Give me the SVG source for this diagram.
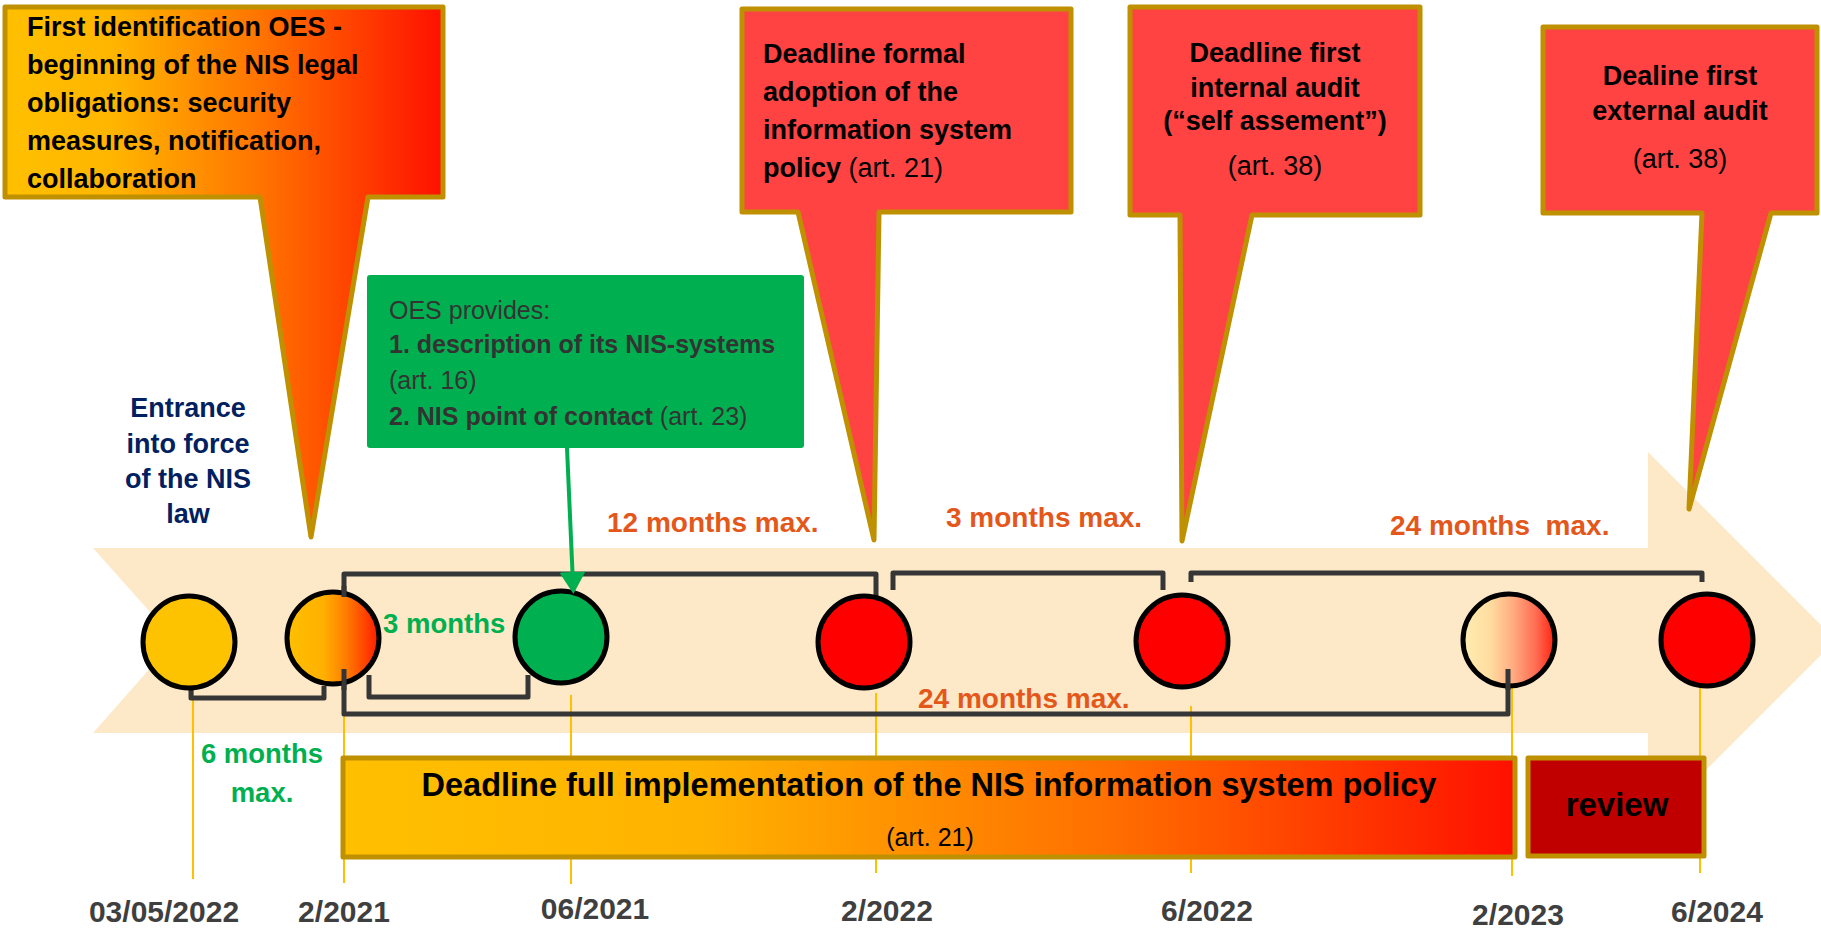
<svg xmlns="http://www.w3.org/2000/svg" width="1821" height="930" viewBox="0 0 1821 930">
  <style>
    text { font-family: "Liberation Sans", Arial, sans-serif; }
    .b { font-weight: bold; }
    .callout { stroke: #BF9000; stroke-width: 5; stroke-linejoin: round; }
    .blk { fill: #000000; font-size: 27px; }
    .reg { font-weight: normal; }
    .bracket { fill: none; stroke: #363636; stroke-width: 5; stroke-linejoin: round; stroke-linecap: butt; }
    .tick { stroke: #FFC000; stroke-width: 2; }
    .dot { stroke: #000000; stroke-width: 5; }
    .orange { fill: #E4571B; font-size: 28px; font-weight: bold; }
    .green { fill: #00B050; font-size: 27.5px; font-weight: bold; }
    .date { fill: #3F3F3F; font-size: 30px; font-weight: bold; text-anchor: middle; }
    .navy { fill: #002060; font-size: 27px; font-weight: bold; text-anchor: middle; }
    .gtxt { fill: #333333; font-size: 25px; }
  </style>
  <defs>
    <linearGradient id="gCallout" gradientUnits="userSpaceOnUse" x1="5" y1="0" x2="443" y2="0">
      <stop offset="0" stop-color="#FFC000"/>
      <stop offset="0.25" stop-color="#FFB500"/>
      <stop offset="0.6" stop-color="#FF7000"/>
      <stop offset="1" stop-color="#FF1000"/>
    </linearGradient>
    <linearGradient id="gBar" x1="0" y1="0" x2="1" y2="0">
      <stop offset="0" stop-color="#FFC000"/>
      <stop offset="0.3" stop-color="#FFB300"/>
      <stop offset="0.65" stop-color="#FF7000"/>
      <stop offset="1" stop-color="#FF1000"/>
    </linearGradient>
    <linearGradient id="gDot" x1="0" y1="0" x2="1" y2="0">
      <stop offset="0" stop-color="#FFC000"/>
      <stop offset="0.4" stop-color="#FFB000"/>
      <stop offset="0.65" stop-color="#FF7A00"/>
      <stop offset="1" stop-color="#FF1A00"/>
    </linearGradient>
    <linearGradient id="gPale" x1="0" y1="0" x2="1" y2="0">
      <stop offset="0" stop-color="#FFEDB0"/>
      <stop offset="0.3" stop-color="#FFDCA0"/>
      <stop offset="0.55" stop-color="#FFAA80"/>
      <stop offset="0.8" stop-color="#FF6A50"/>
      <stop offset="1" stop-color="#FF2010"/>
    </linearGradient>
    <marker id="greenHead" viewBox="0 0 22 26" refX="12" refY="13" markerWidth="22" markerHeight="26" markerUnits="userSpaceOnUse" orient="auto">
      <path d="M0,0 L22,13 L0,26 Z" fill="#00B050"/>
    </marker>
  </defs>

  <!-- timeline arrow band -->
  <g id="timeline-band">
    <path d="M93,548 H1648 V452 L1836,640 L1648,828 V733 H93 L175,640 Z" fill="#FDE8C8"/>
  </g>

  <!-- thin date tick lines -->
  <g id="ticks">
    <line class="tick" x1="193" y1="688" x2="193" y2="879"/>
    <line class="tick" x1="344" y1="688" x2="344" y2="883"/>
    <line class="tick" x1="571" y1="695" x2="571" y2="884"/>
    <line class="tick" x1="876" y1="693" x2="876" y2="873"/>
    <line class="tick" x1="1191" y1="706" x2="1191" y2="873"/>
    <line class="tick" x1="1512" y1="688" x2="1512" y2="876"/>
    <line class="tick" x1="1700" y1="685" x2="1700" y2="873"/>
  </g>

  <!-- callouts -->
  <g id="callout-identification">
    <path class="callout" d="M5,7 H443 V197 H368 L311,537 L260,197 H5 Z" fill="url(#gCallout)"/>
    <text class="b blk" x="27" y="36">First identification OES -</text>
    <text class="b blk" x="27" y="74">beginning of the NIS legal</text>
    <text class="b blk" x="27" y="112">obligations: security</text>
    <text class="b blk" x="27" y="150">measures, notification,</text>
    <text class="b blk" x="27" y="188">collaboration</text>
  </g>

  <g id="callout-policy">
    <path class="callout" d="M742,9 H1071 V212 H879 L874,540 L798,212 H742 Z" fill="#FF4343"/>
    <text class="b blk" x="763" y="63">Deadline formal</text>
    <text class="b blk" x="763" y="101">adoption of the</text>
    <text class="b blk" x="763" y="139">information system</text>
    <text class="b blk" x="763" y="177">policy <tspan class="reg">(art. 21)</tspan></text>
  </g>

  <g id="callout-internal-audit">
    <path class="callout" d="M1130,7 H1420 V215 H1252 L1182,541 L1180,215 H1130 Z" fill="#FF4343"/>
    <text class="b blk" x="1275" y="62" text-anchor="middle" font-size="28">Deadline first</text>
    <text class="b blk" x="1275" y="97" text-anchor="middle" font-size="28">internal audit</text>
    <text class="b blk" x="1275" y="130" text-anchor="middle" font-size="28">(“self assement”)</text>
    <text class="blk" x="1275" y="175" text-anchor="middle">(art. 38)</text>
  </g>

  <g id="callout-external-audit">
    <path class="callout" d="M1543,27 H1817 V213 H1771 L1689,509 L1702,213 H1543 Z" fill="#FF4343"/>
    <text class="b blk" x="1680" y="85" text-anchor="middle" font-size="28">Dealine first</text>
    <text class="b blk" x="1680" y="120" text-anchor="middle" font-size="28">external audit</text>
    <text class="blk" x="1680" y="168" text-anchor="middle">(art. 38)</text>
  </g>

  <!-- OES provides box -->
  <g id="oes-provides">
    <rect x="367" y="275" width="437" height="173" rx="3" fill="#00B050"/>
    <text class="gtxt" x="389" y="319">OES provides:</text>
    <text class="gtxt b" x="389" y="353">1. description of its NIS-systems</text>
    <text class="gtxt" x="389" y="389">(art. 16)</text>
    <text class="gtxt b" x="389" y="425">2. NIS point of contact <tspan class="reg">(art. 23)</tspan></text>
  </g>

  <g id="entrance-label">
    <text class="navy" x="188" y="417">Entrance</text>
    <text class="navy" x="188" y="453">into force</text>
    <text class="navy" x="188" y="488">of the NIS</text>
    <text class="navy" x="188" y="523">law</text>
  </g>

  <!-- connectors: duration brackets -->
  <g id="connectors">
    <path class="bracket" d="M191,686 V698 H324 V686"/>
    <path class="bracket" d="M369,675 V697 H528 V675"/>
    <path class="bracket" d="M344,597 V574 H876 V598"/>
    <path class="bracket" d="M893,590 V573 H1163 V590"/>
    <path class="bracket" d="M1191,582 V573 H1702 V582"/>
    <path class="bracket" d="M344,669 V714 H1508 V669"/>
  </g>

  <!-- milestones -->
  <g id="m-entrance"><ellipse class="dot" cx="189" cy="642" rx="46" ry="46" fill="#FDC300"/></g>
  <g id="m-identification"><ellipse class="dot" cx="333" cy="638" rx="46" ry="46" fill="url(#gDot)"/></g>
  <g id="m-oes"><ellipse class="dot" cx="561" cy="637" rx="46" ry="46" fill="#00B050"/></g>
  <g id="m-policy"><ellipse class="dot" cx="864" cy="642" rx="46" ry="46" fill="#FF0000"/></g>
  <g id="m-internal"><ellipse class="dot" cx="1182" cy="641" rx="46" ry="46" fill="#FF0000"/></g>
  <g id="m-implementation"><ellipse class="dot" cx="1509" cy="640" rx="46" ry="46" fill="url(#gPale)"/></g>
  <g id="m-external"><ellipse class="dot" cx="1707" cy="640" rx="46" ry="46" fill="#FF0000"/></g>

  <!-- bracket ends and pointer drawn over the milestones -->
  <g id="connector-ends">
    <path class="bracket" d="M344,597 V586"/>
    <path class="bracket" d="M344,669 V690"/>
    <path class="bracket" d="M1508,669 V690"/>
    <line x1="567" y1="448" x2="573" y2="584" stroke="#00B050" stroke-width="4" marker-end="url(#greenHead)"/>
  </g>

  <!-- duration labels -->
  <g id="duration-labels">
    <text class="green" x="383" y="633">3 months</text>
    <text class="green" x="262" y="763" text-anchor="middle">6 months</text>
    <text class="green" x="262" y="802" text-anchor="middle">max.</text>
    <text class="orange" x="607" y="532">12 months max.</text>
    <text class="orange" x="946" y="527">3 months max.</text>
    <text class="orange" x="1390" y="535" xml:space="preserve">24 months  max.</text>
    <text class="orange" x="918" y="708">24 months max.</text>
  </g>

  <!-- implementation bar -->
  <g id="implementation-bar">
    <rect class="callout" x="343" y="758" width="1172" height="99" fill="url(#gBar)"/>
    <text class="b" x="929" y="796" text-anchor="middle" font-size="32.5" fill="#000">Deadline full implementation of the NIS information system policy</text>
    <text x="930" y="846" text-anchor="middle" font-size="25" fill="#000">(art. 21)</text>
  </g>

  <g id="review">
    <rect class="callout" x="1528" y="758" width="176" height="98" fill="#C00000"/>
    <text class="b" x="1617" y="816" text-anchor="middle" font-size="33" fill="#000">review</text>
  </g>

  <!-- dates -->
  <g id="dates">
    <text class="date" x="164" y="922">03/05/2022</text>
    <text class="date" x="344" y="922">2/2021</text>
    <text class="date" x="595" y="919">06/2021</text>
    <text class="date" x="887" y="921">2/2022</text>
    <text class="date" x="1207" y="921">6/2022</text>
    <text class="date" x="1518" y="925">2/2023</text>
    <text class="date" x="1717" y="922">6/2024</text>
  </g>
</svg>
